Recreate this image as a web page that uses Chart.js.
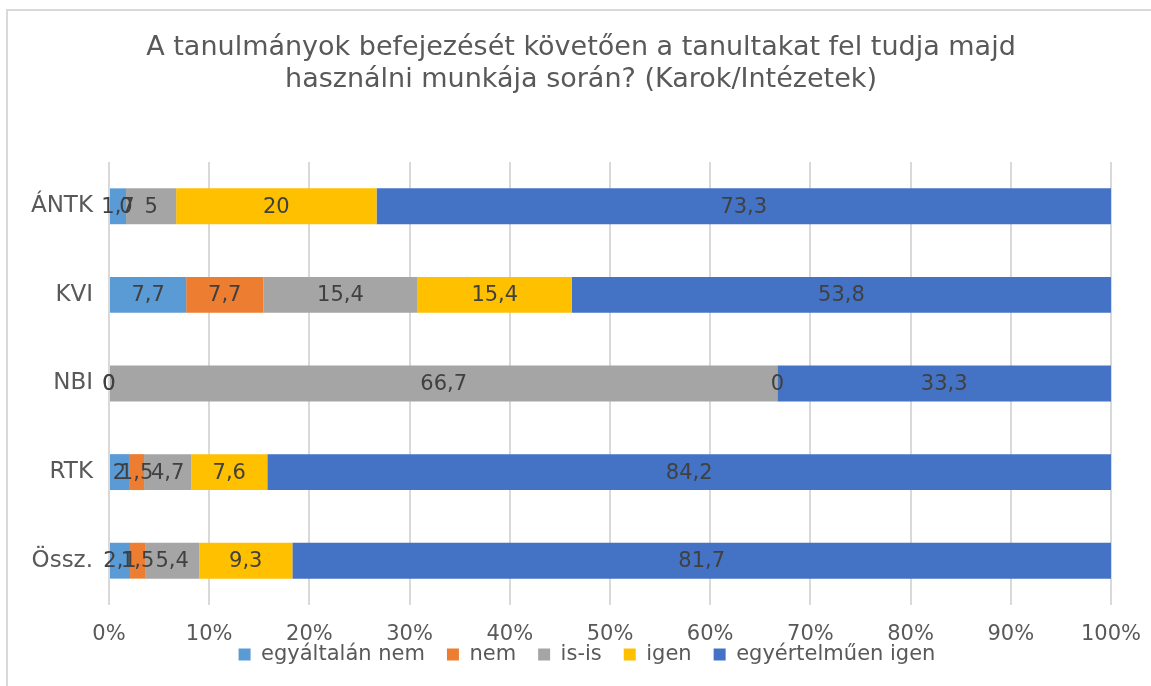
<!DOCTYPE html>
<html>
<head>
<meta charset="utf-8">
<script src="https://cdn.jsdelivr.net/npm/chart.js@4.4.1/dist/chart.umd.min.js"></script>
<style>
  html, body { margin: 0; padding: 0; background: #ffffff; overflow: hidden; }
  #wrap { position: relative; width: 1151px; height: 686px; }
  #frame { position: absolute; left: 6px; top: 9px; width: 1200px; height: 720px;
           border: 2px solid #d9d9d9; box-sizing: border-box; }
  canvas { position: absolute; left: 0; top: 0; }
</style>
</head>
<body>
<div id="wrap">
  <div id="frame"></div>
  <canvas id="c" width="1151" height="686"></canvas>
</div>
<script>
// Categories (faculties / institutes) and answer shares in percent
const categories = ['ÁNTK', 'KVI', 'NBI', 'RTK', 'Össz.'];
const egyaltalanNem   = [1.7, 7.7, 0, 2, 2.1];
const nem             = [0, 7.7, 0, 1.5, 1.5];
const isIs            = [5, 15.4, 66.7, 4.7, 5.4];
const igen            = [20, 15.4, 0, 7.6, 9.3];
const egyertelmuenIgen = [73.3, 53.8, 33.3, 84.2, 81.7];
const seriesNames = ['egyáltalán nem', 'nem', 'is-is', 'igen', 'egyértelműen igen'];
const tickLabels = ['0%', '10%', '20%', '30%', '40%', '50%', '60%', '70%', '80%', '90%', '100%'];

const colors = ['#5B9BD5', '#ED7D31', '#A5A5A5', '#FFC000', '#4472C4'];
const seriesData = [egyaltalanNem, nem, isIs, igen, egyertelmuenIgen];
const FONT = '"DejaVu Sans", Verdana, sans-serif';

// Writes each segment's value (decimal comma) in the middle of its bar piece
const valueLabels = {
  id: 'valueLabels',
  afterDatasetsDraw(chart) {
    const ctx = chart.ctx;
    ctx.save();
    ctx.font = '21px ' + FONT;
    ctx.fillStyle = '#404040';
    ctx.textAlign = 'center';
    ctx.textBaseline = 'middle';
    chart.data.datasets.forEach((ds, di) => {
      const meta = chart.getDatasetMeta(di);
      meta.data.forEach((bar, i) => {
        const v = ds.data[i];
        const cx = (bar.x + bar.base) / 2;
        ctx.fillText(String(v).replace('.', ','), cx, bar.y + 1);
      });
    });
    ctx.restore();
  }
};

// Keeps the legend band short, then sets the legend row under the tick labels
// and nudges title and legend a little right of the canvas centre
const boxPlacement = {
  id: 'boxPlacement',
  beforeLayout(chart) {
    const lg = chart.legend;
    if (lg && !lg._shortBand) {
      const upd = lg.update.bind(lg);
      lg.update = function (maxW, maxH, margins) {
        upd(maxW, maxH, margins);
        this.height = 45;
      };
      lg._shortBand = true;
    }
  },
  afterLayout(chart) {
    const lg = chart.legend;
    if (lg) {
      const dx = 7, dy = 622 - lg.top;
      lg.left += dx; lg.right += dx;
      lg.top += dy; lg.bottom += dy;
    }
    const tb = chart.titleBlock;
    if (tb) { tb.left += 1; tb.right += 1; }
  }
};

new Chart(document.getElementById('c'), {
  type: 'bar',
  data: {
    labels: categories,
    datasets: seriesData.map((d, i) => ({
      label: seriesNames[i],
      data: d,
      backgroundColor: colors[i],
      borderWidth: 0,
      categoryPercentage: 1,
      barPercentage: 0.405
    }))
  },
  options: {
    indexAxis: 'y',
    responsive: false,
    animation: false,
    layout: { padding: { left: 9, right: 0, top: 0, bottom: 0 } },
    scales: {
      x: {
        stacked: true,
        min: 0,
        max: 100,
        grid: { color: '#d9d9d9', lineWidth: 2, drawTicks: false },
        border: { display: false },
        ticks: {
          stepSize: 10,
          color: '#595959',
          font: { family: FONT, size: 21 },
          padding: 17,
          callback: (v, i) => tickLabels[i]
        },
        afterFit(scale) {
          scale.height = 36;
          scale.paddingLeft = 0;
          scale.paddingRight = 40;
        }
      },
      y: {
        stacked: true,
        grid: { display: false, drawTicks: false },
        border: { display: false },
        ticks: {
          color: '#595959',
          font: { family: FONT, size: 23 },
          padding: 16
        },
        afterFit(scale) { scale.width = 100; }
      }
    },
    plugins: {
      title: {
        display: true,
        text: ['A tanulmányok befejezését követően a tanultakat fel tudja majd',
               'használni munkája során? (Karok/Intézetek)'],
        color: '#595959',
        font: { family: FONT, size: 27, weight: 'normal', lineHeight: 1.185 },
        padding: { top: 32, bottom: 66 }
      },
      legend: {
        position: 'bottom',
        labels: {
          color: '#595959',
          font: { family: FONT, size: 21 },
          boxWidth: 12,
          boxHeight: 12,
          padding: 22
        }
      },
      tooltip: { enabled: false }
    }
  },
  plugins: [valueLabels, boxPlacement]
});
</script>
</body>
</html>
